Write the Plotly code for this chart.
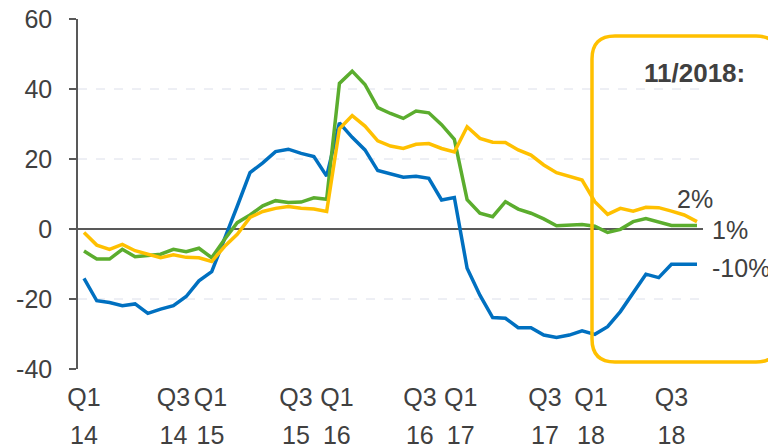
import plotly.graph_objects as go

# ---- data ----
idx = list(range(49))

blue = [-14.1, -20.5, -21.0, -21.9, -21.4, -24.1, -22.9, -21.9, -19.3, -14.8,
        -12.2, -3.0, 6.5, 16.1, 18.9, 22.1, 22.8, 21.6, 20.7, 15.1,
        30.3, 26.2, 22.6, 16.7, 15.7, 14.8, 15.1, 14.5, 8.3, 9.0,
        -11.2, -18.9, -25.3, -25.5, -28.2, -28.2, -30.3, -31.0, -30.3, -29.1,
        -30.1, -27.9, -23.6, -18.2, -12.9, -13.9, -10.1, -10.1, -10.1]

green = [-6.3, -8.6, -8.6, -5.8, -7.9, -7.6, -7.2, -5.8, -6.5, -5.5,
         -8.2, -3.0, 1.8, 4.0, 6.6, 8.1, 7.6, 7.7, 8.9, 8.5,
         41.6, 45.1, 41.3, 34.7, 33.0, 31.6, 33.7, 33.2, 29.8, 25.6,
         8.4, 4.5, 3.5, 7.8, 5.7, 4.5, 2.9, 0.9, 1.0, 1.3,
         0.8, -1.0, -0.1, 2.1, 3.0, 2.1, 1.0, 1.0, 1.0]

yellow = [-1.0, -4.6, -5.8, -4.4, -6.2, -7.2, -8.2, -7.4, -8.1, -8.2,
          -9.3, -5.0, -1.5, 3.3, 5.0, 5.9, 6.4, 5.9, 5.7, 5.0,
          28.6, 32.4, 29.4, 25.2, 23.7, 23.0, 24.2, 24.4, 23.0, 22.0,
          29.2, 25.9, 24.8, 24.7, 22.6, 21.1, 18.3, 16.1, 15.0, 14.0,
          7.8, 4.2, 5.9, 5.1, 6.2, 6.1, 5.1, 4.0, 2.1]

tick_pos = [0, 7, 9.9, 16.6, 19.8, 26.3, 29.5, 36.1, 39.7, 46]
tick_quarter = ["Q1", "Q3", "Q1", "Q3", "Q1", "Q3", "Q1", "Q3", "Q1", "Q3"]
tick_year = ["14", "14", "15", "15", "16", "16", "17", "17", "18", "18"]

end_labels = ["-10%", "1%", "2%"]
box_title = "11/2018:"

y_ticks = [-40, -20, 0, 20, 40, 60]
y_ticktext = ["-40", "-20", "0", "20", "40", "60"]
grid_vals = [-20, 20, 40]

# ---- style ----
FONT = "Arial, Liberation Sans, sans-serif"
TXT = "#404040"
AXC = "#595959"
C_BLUE = "#0070C0"
C_GREEN = "#5BAD2E"
C_YELLOW = "#FFC000"
FS = 25

fig = go.Figure()
for ys, col in [(blue, C_BLUE), (green, C_GREEN), (yellow, C_YELLOW)]:
    fig.add_trace(go.Scatter(x=idx, y=ys, mode="lines",
                             line=dict(color=col, width=3.5),
                             showlegend=False, hoverinfo="skip"))

# dummy trace for the second (year) label axis
fig.add_trace(go.Scatter(x=tick_pos, y=[None] * len(tick_pos), xaxis="x2",
                         mode="lines", showlegend=False, hoverinfo="skip"))

xr = [-0.47, 48.47]
# page body has an 8px margin: figure is 768x439 so it ends at the window edge
fig.update_layout(
    width=768, height=439,
    margin=dict(l=70, r=73, t=11, b=78),
    paper_bgcolor="white", plot_bgcolor="white",
    font=dict(family=FONT, color=TXT, size=FS),
    xaxis=dict(range=xr, showgrid=False, zeroline=False, showline=False,
               tickmode="array", tickvals=tick_pos, ticktext=tick_quarter,
               ticks="", ticklabelstandoff=11, automargin=False,
               ticklabeloverflow="allow",
               tickfont=dict(size=FS, color=TXT)),
    xaxis2=dict(range=xr, overlaying="x", anchor="y", side="bottom",
                showgrid=False, zeroline=False, showline=False,
                tickmode="array", tickvals=tick_pos, ticktext=tick_year,
                ticks="", ticklabelstandoff=49, automargin=False,
                ticklabeloverflow="allow",
                tickfont=dict(size=FS, color=TXT)),
    yaxis=dict(range=[-40, 60], tickmode="array", tickvals=y_ticks, ticktext=y_ticktext,
               showgrid=False, zeroline=True, zerolinecolor=AXC, zerolinewidth=2,
               showline=True, linecolor=AXC, linewidth=1.5,
               ticks="outside", ticklen=7, tickcolor=AXC, tickwidth=1.5,
               ticklabelstandoff=12, automargin=False,
               ticklabeloverflow="allow",
               tickfont=dict(size=FS, color=TXT)),
)

shapes = []
for g in grid_vals:
    shapes.append(dict(type="line", xref="paper", x0=0, x1=1, yref="y", y0=g, y1=g,
                       line=dict(color="#dcdfea", width=1, dash="dash"), layer="below"))

# rounded highlight box (paper coords)
L, R, T, B = 0.8224, 1.1216, 0.9514, 0.02
rx, ry = 0.0368, 0.0657
path = (f"M {L+rx},{T} L {R-rx},{T} Q {R},{T} {R},{T-ry} L {R},{B+ry} "
        f"Q {R},{B} {R-rx},{B} L {L+rx},{B} Q {L},{B} {L},{B+ry} "
        f"L {L},{T-ry} Q {L},{T} {L+rx},{T} Z")
shapes.append(dict(type="path", xref="paper", yref="paper", path=path,
                   line=dict(color=C_YELLOW, width=3.5), layer="above"))
fig.update_layout(shapes=shapes)

ann = [
    dict(x=idx[-1], y=blue[-1], text=end_labels[0], xanchor="left", yanchor="middle",
         xshift=13, yshift=-4),
    dict(x=idx[-1], y=green[-1], text=end_labels[1], xanchor="left", yanchor="middle",
         xshift=13, yshift=-4),
    dict(x=idx[-1], y=yellow[-1], text=end_labels[2], xanchor="left", yanchor="middle",
         xshift=-22, yshift=23),
]
for a in ann:
    a.update(showarrow=False, font=dict(size=FS, color=TXT, family=FONT))
ann.append(dict(xref="paper", yref="paper", x=0.9856, y=0.8457, text=f"<b>{box_title}</b>",
                showarrow=False, xanchor="center", yanchor="middle",
                font=dict(size=26, color=TXT, family=FONT)))
fig.update_layout(annotations=ann)

fig.write_html("out.html")
